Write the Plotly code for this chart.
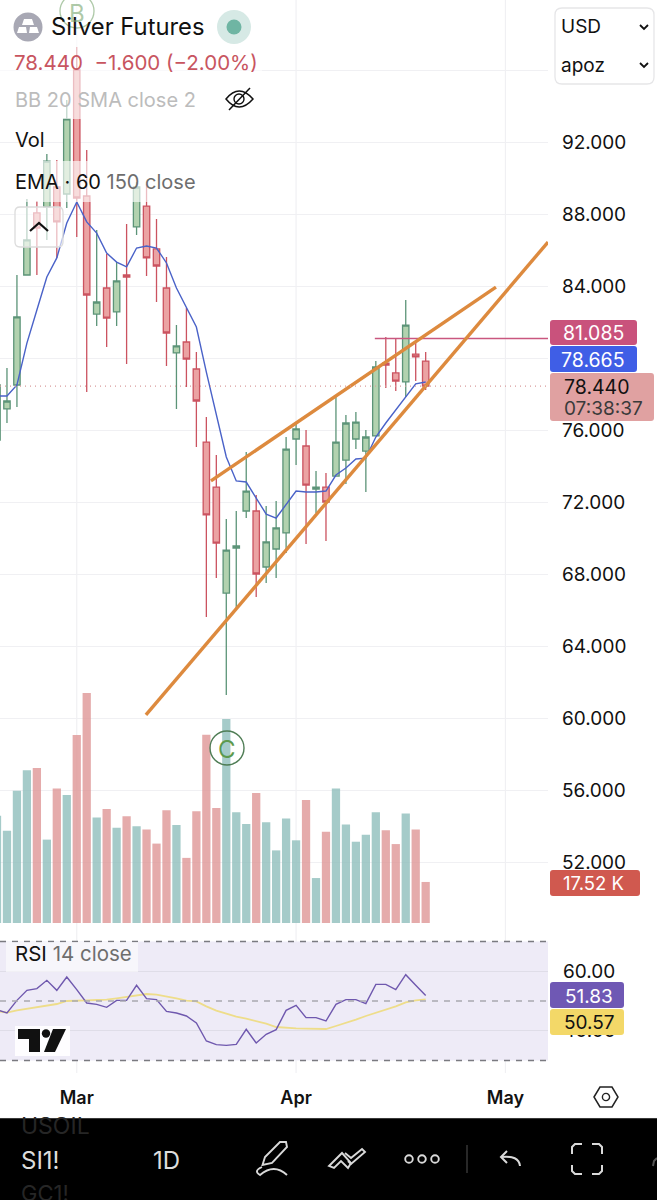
import plotly.graph_objects as go

W, H = 657, 1200
FONT = "Inter"

# trading days, index 0 is the partly hidden bar at the left edge
DATE_LABELS = ["Mar", "Apr", "May"]
DATE_BARS = [8, 30, 51]

# price units
OPEN = [75.44, 77.17, 78.50, 84.61, 88.06, 88.39, 89.50, 89.11, 96.00, 89.00, 82.44,
        83.89, 82.56, 84.61, 87.28, 88.44, 86.06, 83.89, 80.28, 80.89, 79.39, 75.33,
        72.83, 66.94, 69.44, 71.50, 71.50, 68.39, 69.39, 70.28, 75.50, 75.11, 72.72,
        72.83, 73.44, 74.33, 75.50, 74.83, 75.67, 79.72, 79.17, 78.67, 80.22, 79.83]
HIGH = [79.33, 79.44, 84.61, 88.83, 88.72, 91.33, 91.00, 94.33, 97.28, 91.56, 87.11,
        85.78, 85.33, 87.44, 89.78, 89.67, 87.72, 85.61, 81.83, 82.78, 80.33, 76.72,
        74.61, 71.06, 71.50, 74.78, 72.39, 71.78, 72.06, 75.61, 76.39, 76.00, 73.72,
        73.61, 77.83, 76.83, 77.00, 76.00, 79.83, 81.17, 81.06, 83.22, 80.83, 80.33]
LOW = [73.61, 76.39, 77.28, 84.61, 84.61, 86.56, 85.56, 88.33, 86.72, 78.11, 81.78,
       80.61, 81.78, 79.67, 86.83, 84.56, 83.11, 79.56, 77.17, 78.39, 75.06, 65.61,
       67.78, 61.28, 66.11, 71.11, 66.72, 67.50, 67.78, 69.17, 74.06, 69.67, 71.39,
       69.83, 73.44, 73.00, 74.94, 72.56, 75.67, 78.33, 78.17, 77.83, 78.72, 78.22]
CLOSE = [78.50, 77.61, 82.28, 86.56, 87.22, 90.94, 87.56, 93.28, 88.89, 83.50, 83.11,
         82.22, 84.28, 84.50, 89.50, 85.56, 85.11, 81.39, 80.67, 79.94, 77.61, 71.28,
         69.72, 69.33, 69.56, 72.61, 68.00, 69.78, 70.56, 74.94, 76.06, 72.94, 72.83,
         72.00, 75.33, 76.39, 76.44, 75.61, 79.50, 79.61, 78.72, 81.83, 80.06, 78.44]
EMA = [77.89, 77.89, 78.50, 80.83, 82.67, 84.50, 85.56, 87.50, 88.67, 87.56, 86.94,
       85.83, 85.33, 85.06, 86.11, 86.22, 86.11, 85.28, 83.89, 82.78, 81.72, 79.22,
       76.94, 74.50, 73.17, 73.11, 72.22, 71.33, 71.11, 71.89, 72.61, 72.56, 72.56,
       72.61, 73.50, 73.89, 74.39, 74.44, 75.61, 76.39, 77.11, 77.83, 78.56, 78.665]

# thousands of contracts
VOLUME = [45.8, 39.4, 56.5, 65.2, 66.2, 35.6, 57.4, 54.7, 80.3, 98.2, 45.0,
          48.7, 40.7, 45.6, 41.3, 39.9, 33.9, 48.1, 41.8, 27.8, 47.7, 80.4,
          49.1, 87.1, 47.3, 42.3, 55.5, 43.0, 31.0, 44.6, 35.3, 52.5, 19.2,
          39.0, 57.4, 42.1, 34.7, 37.7, 47.3, 39.6, 33.7, 46.8, 39.9, 17.52]
VOLUME_UP = [1, 1, 1, 1, 0, 1, 0, 1, 0, 0, 1,
             0, 1, 0, 1, 0, 0, 0, 1, 0, 0, 0,
             0, 1, 1, 1, 0, 1, 1, 1, 1, 0, 1,
             0, 1, 1, 1, 1, 1, 0, 0, 1, 0, 0]

RSI = [47.09, 45.97, 50.22, 53.59, 54.15, 56.95, 53.59, 58.07, 53.81, 49.33, 48.88,
       47.87, 50.22, 50.22, 55.27, 50.78, 50.45, 46.53, 45.97, 44.96, 42.61, 36.55,
       35.32, 35.10, 35.43, 40.48, 35.88, 38.80, 40.36, 46.86, 48.54, 44.40, 44.40,
       43.28, 48.88, 50.45, 50.45, 49.10, 55.60, 55.60, 53.81, 58.85, 55.27, 51.83]
RSI_MA = [46.64, 46.08, 46.86, 47.42, 47.87, 48.43, 48.99, 50.00, 50.22, 50.22, 50.34,
          50.45, 50.90, 51.46, 52.02, 52.35, 52.13, 51.57, 50.90, 50.11, 49.89, 48.21,
          46.75, 45.74, 44.73, 44.06, 43.28, 42.38, 41.26, 40.92, 40.81, 40.70, 40.59,
          40.59, 41.60, 42.61, 43.73, 44.96, 45.97, 47.09, 48.21, 49.55, 50.22, 50.57]

UPPER_TREND_BARS = [21.46, 50.05]
UPPER_TREND_PRICES = [73.17, 83.94]
LOWER_TREND_BARS = [14.94, 55.27]
LOWER_TREND_PRICES = [60.17, 86.44]
LEVEL_BARS = [37.9, 55.27]
LEVEL_PRICES = [81.085, 81.085]
LAST_PRICE = 78.44

PRICE_TICKS = [52, 56, 60, 64, 68, 72, 76, 80, 84, 88, 92, 96]
RSI_TICKS = [40, 60]
RSI_BANDS = [30, 50, 70]

bars = list(range(len(CLOSE)))
ORANGE = "#dd8a3e"
GRID = "#f0f0f3"
PANE_RIGHT = 548 / W


def fx(x):
    return x / W


def fy(y):
    return 1 - y / H


def path(points, close=False):
    out = "M" + " L".join(f"{fx(x):.5f} {fy(y):.5f}" for x, y in points)
    return out + (" Z" if close else "")


def rounded(x0, y0, x1, y1, r):
    # rounded box as a paper-space path
    return (f"M{fx(x0 + r):.5f} {fy(y0):.5f} L{fx(x1 - r):.5f} {fy(y0):.5f} "
            f"Q{fx(x1):.5f} {fy(y0):.5f} {fx(x1):.5f} {fy(y0 + r):.5f} "
            f"L{fx(x1):.5f} {fy(y1 - r):.5f} Q{fx(x1):.5f} {fy(y1):.5f} {fx(x1 - r):.5f} {fy(y1):.5f} "
            f"L{fx(x0 + r):.5f} {fy(y1):.5f} Q{fx(x0):.5f} {fy(y1):.5f} {fx(x0):.5f} {fy(y1 - r):.5f} "
            f"L{fx(x0):.5f} {fy(y0 + r):.5f} Q{fx(x0):.5f} {fy(y0):.5f} {fx(x0 + r):.5f} {fy(y0):.5f} Z")


fig = go.Figure()

fig.add_trace(go.Bar(
    x=bars, y=VOLUME, yaxis="y", xaxis="x", width=0.83,
    marker=dict(color=["rgba(142,190,188,0.8)" if up else "rgba(222,150,150,0.8)" for up in VOLUME_UP],
                line_width=0),
))
fig.add_trace(go.Candlestick(
    x=bars, open=OPEN, high=HIGH, low=LOW, close=CLOSE, yaxis="y2", xaxis="x",
    whiskerwidth=0,
    increasing=dict(line=dict(color="#5c9478", width=1.3), fillcolor="#b2d2af"),
    decreasing=dict(line=dict(color="#cb5360", width=1.3), fillcolor="#eba3a3"),
))
fig.add_trace(go.Scatter(x=bars, y=EMA, mode="lines", yaxis="y2", xaxis="x",
                         line=dict(color="#4a62c8", width=1.4)))
fig.add_trace(go.Scatter(x=LEVEL_BARS, y=LEVEL_PRICES, mode="lines", yaxis="y2", xaxis="x",
                         line=dict(color="#c9577f", width=1.5)))
for tx, ty in [(UPPER_TREND_BARS, UPPER_TREND_PRICES), (LOWER_TREND_BARS, LOWER_TREND_PRICES)]:
    fig.add_trace(go.Scatter(x=tx, y=ty, mode="lines", yaxis="y2", xaxis="x",
                             line=dict(color=ORANGE, width=3.4)))
fig.add_trace(go.Scatter(x=bars, y=RSI_MA, mode="lines", yaxis="y3", xaxis="x",
                         line=dict(color="#eedd8a", width=1.8)))
fig.add_trace(go.Scatter(x=bars, y=RSI, mode="lines", yaxis="y3", xaxis="x",
                         line=dict(color="#6f58ae", width=1.4)))

shapes = []


def add_fill(p, color, line=None, width=0, layer="above"):
    shapes.append(dict(type="path", path=p, xref="paper", yref="paper", fillcolor=color,
                       line=dict(color=line or "rgba(0,0,0,0)", width=width), layer=layer))


def add_stroke(points, color, width=1.6, close=False):
    shapes.append(dict(type="path", path=path(points, close), xref="paper", yref="paper",
                       line=dict(color=color, width=width), layer="above"))


def add_circle(cx, cy, r, fill="rgba(0,0,0,0)", line="rgba(0,0,0,0)", width=0):
    shapes.append(dict(type="circle", xref="paper", yref="paper", x0=fx(cx - r), x1=fx(cx + r),
                       y0=fy(cy + r), y1=fy(cy - r), fillcolor=fill,
                       line=dict(color=line, width=width), layer="above"))


# month grid runs through all panes
for b in DATE_BARS:
    shapes.append(dict(type="line", xref="x", yref="paper", x0=b, x1=b, y0=fy(1073), y1=1,
                       line=dict(color=GRID, width=1.2), layer="below"))

# rsi pane band and dashed limits
shapes.append(dict(type="rect", xref="paper", yref="y3", x0=0, x1=PANE_RIGHT, y0=RSI_BANDS[0], y1=RSI_BANDS[2],
                   fillcolor="#eeebf7", line_width=0, layer="below"))
for level, color in zip(RSI_BANDS, ["#7a7a80", "#a9a9b0", "#7a7a80"]):
    shapes.append(dict(type="line", xref="paper", yref="y3", x0=0, x1=PANE_RIGHT, y0=level, y1=level,
                       line=dict(color=color, width=1.3, dash="6px,6px"), layer="above"))

# last price dotted line
shapes.append(dict(type="line", xref="paper", yref="y2", x0=0, x1=PANE_RIGHT, y0=LAST_PRICE, y1=LAST_PRICE,
                   line=dict(color="#d99a9a", width=1.2, dash="1px,4px"), layer="above"))

# legend backdrops wash out the candles below them
add_fill(path([(0, 0), (262, 0), (262, 119), (0, 119)], True), "rgba(255,255,255,0.62)")
add_fill(path([(0, 161), (205, 161), (205, 202), (0, 202)], True), "rgba(255,255,255,0.62)")

# B and C wave marks
add_circle(77, 11, 17, line="rgba(120,165,110,0.6)", width=1.3)
add_circle(227, 748, 17, line="#4f7d55", width=1.4)

# collapse pill
add_fill(rounded(15, 207, 63, 247, 5), "rgba(255,255,255,0.62)", "#dcdcdc", 1.3)
add_stroke([(30, 231), (39, 223), (48, 231)], "#111111", 2.2)

# symbol icon and market status dot
add_circle(28, 27, 14.5, fill="#a8a8b4")
add_fill(path([(24, 19), (32, 19), (34, 25), (22, 25)], True), "#ffffff")
add_fill(path([(19, 27), (26, 27), (27, 33), (17, 33)], True), "#ffffff")
add_fill(path([(30, 27), (37, 27), (39, 33), (29, 33)], True), "#ffffff")
add_circle(234, 27, 17, fill="#d6e9e5")
add_circle(234, 27, 7.5, fill="#6fb5a3")

# hidden-eye icon
shapes.append(dict(type="path", xref="paper", yref="paper", layer="above", line=dict(color="#111111", width=1.5),
                   path=f"M{fx(226):.5f} {fy(99):.5f} Q{fx(239):.5f} {fy(83):.5f} {fx(253):.5f} {fy(99):.5f} "
                        f"Q{fx(239):.5f} {fy(115):.5f} {fx(226):.5f} {fy(99):.5f} Z"))
add_circle(239, 99, 5, line="#111111", width=1.4)
add_stroke([(229, 110), (250, 88)], "#111111", 1.5)

# currency selector covers the 96 label
add_fill(rounded(555, 8, 654, 84, 7), "#ffffff", "#e6e6e8", 1.3)
add_stroke([(640, 25), (644, 29), (648, 25)], "#111111", 1.8)
add_stroke([(640, 63), (644, 67), (648, 63)], "#111111", 1.8)

# price and rsi tags
add_fill(rounded(550, 320, 637, 345, 3), "#c9527c")
add_fill(rounded(550, 346, 637, 372, 3), "#3f5ee6")
add_fill(rounded(550, 373, 654, 421, 3), "#e0a1a1")
add_fill(rounded(550, 870, 640, 896, 3), "#d0594f")
add_fill(rounded(550, 982, 624, 1008, 3), "#6f58b4")
add_fill(rounded(550, 1009, 624, 1035, 3), "#f3d868")

# rsi legend backdrop
add_fill(path([(6, 942), (138, 942), (138, 972), (6, 972)], True), "rgba(255,255,255,0.55)")

# tradingview mark
add_fill(path([(15, 1026), (70, 1026), (70, 1056), (15, 1056)], True), "rgba(255,255,255,0.9)")
add_fill(path([(18, 1029), (40, 1029), (40, 1052), (29, 1052), (29, 1039), (18, 1039)], True), "#111111")
add_circle(46, 1033.5, 4.2, fill="#111111")
add_fill(path([(53, 1029), (66, 1029), (55, 1052), (44, 1052)], True), "#111111")

# settings hexagon
add_stroke([(594, 1097), (600, 1087), (612, 1087), (618, 1097), (612, 1107), (600, 1107)], "#222222", 1.5, True)
add_circle(606, 1097, 3.6, line="#222222", width=1.4)

# bottom toolbar
add_fill(path([(0, 1118), (W, 1118), (W, H), (0, H)], True), "#000000")
add_stroke([(0, 1118.5), (W, 1118.5)], "#3a3a3a", 1)
ICON = "#d9d9d9"
add_stroke([(262.5, 1165), (265, 1157), (280, 1142), (286, 1142), (287, 1147), (272, 1163)], ICON, 1.9, True)
shapes.append(dict(type="path", xref="paper", yref="paper", layer="above", line=dict(color=ICON, width=1.9),
                   path=f"M{fx(262):.5f} {fy(1167):.5f} Q{fx(253):.5f} {fy(1171):.5f} {fx(260):.5f} {fy(1175):.5f} "
                        f"Q{fx(274):.5f} {fy(1163):.5f} {fx(287):.5f} {fy(1175):.5f}"))
add_stroke([(329, 1166), (342, 1153), (351, 1163), (348, 1168), (341, 1161), (334, 1168)], ICON, 1.9, True)
add_stroke([(345, 1153), (351, 1158), (362, 1149), (365, 1152), (351, 1164), (348, 1161)], ICON, 1.9, False)
for cx in (409, 422, 435):
    add_circle(cx, 1159, 3.8, line=ICON, width=1.9)
add_stroke([(467, 1145), (467, 1173)], "#444444", 1.2)
add_stroke([(507, 1151), (501, 1157), (507, 1163)], ICON, 2)
shapes.append(dict(type="path", xref="paper", yref="paper", layer="above", line=dict(color=ICON, width=2),
                   path=f"M{fx(501):.5f} {fy(1157):.5f} Q{fx(519):.5f} {fy(1155):.5f} {fx(520):.5f} {fy(1166):.5f}"))
add_stroke([(572, 1154), (572, 1147), (575, 1144), (582, 1144)], ICON, 2)
add_stroke([(592, 1144), (599, 1144), (602, 1147), (602, 1154)], ICON, 2)
add_stroke([(572, 1165), (572, 1171), (575, 1174), (582, 1174)], ICON, 2)
add_stroke([(592, 1174), (599, 1174), (602, 1171), (602, 1165)], ICON, 2)
add_stroke([(653, 1166), (654, 1161), (657, 1158)], "#555555", 2)


def note(x, y, text, size=20, color="#111111", anchor="left", weight=None):
    ann = dict(x=fx(x), y=fy(y), xref="paper", yref="paper", text=text, showarrow=False,
               xanchor=anchor, yanchor="middle", align=anchor,
               font=dict(family=FONT, size=size, color=color))
    if weight:
        ann["font"]["weight"] = weight
    return ann


notes = [
    note(49, 27, "Silver Futures", 23.8, "#111111"),
    note(12, 63, "78.440&#160;&#160;\u22121.600 (\u22122.00%)", 20.5, "#c8555f"),
    note(13, 100, "BB 20 SMA close 2", 20, "#bcbcbc"),
    note(13, 140, "Vol", 20, "#111111"),
    note(13, 182, "EMA \u00b7 60 <span style='color:#6e6e6e'>150 close</span>", 20, "#111111"),
    note(77, 13, "B", 24, "rgba(120,165,110,0.6)", "center"),
    note(227, 749, "C", 24, "#5d9a4e", "center"),
    note(559, 27, "USD", 19, "#111111"),
    note(559, 65, "apoz", 19, "#111111"),
    note(593, 333, "81.085", 19.5, "#ffffff", "center"),
    note(593, 360, "78.665", 19.5, "#ffffff", "center"),
    note(562, 387, "78.440", 19.5, "#111111"),
    note(562, 408, "07:38:37", 19, "#3a3a3a"),
    note(593, 883, "17.52 K", 18.5, "#ffffff", "center"),
    note(589, 996, "51.83", 19, "#ffffff", "center"),
    note(589, 1022, "50.57", 19, "#111111", "center"),
    note(13, 953, "RSI <span style='color:#6e6e6e'>14 close</span>", 20.5, "#111111"),
    note(19, 1160, "SI1!", 24, "#dddddd"),
    note(151, 1160, "1D", 24, "#dddddd"),
    note(19, 1126, "USOIL", 23, "#262626"),
    note(19, 1193, "GC1!", 22, "#262626"),
]

fig.update_layout(
    width=W, height=H,
    margin=dict(l=0, r=0, t=0, b=0),
    paper_bgcolor="#ffffff", plot_bgcolor="rgba(0,0,0,0)",
    showlegend=False,
    boxgap=0.18, boxgroupgap=0.22,
    shapes=shapes,
    annotations=notes,
    font=dict(family=FONT, color="#111111"),
    xaxis=dict(domain=[0, PANE_RIGHT], range=[0.301, 55.27], anchor="y3", showgrid=False, zeroline=False,
               showline=False, tickmode="array", tickvals=DATE_BARS, ticktext=DATE_LABELS, ticks="",
               ticklabelstandoff=7, tickfont=dict(size=18, family=FONT, weight=600), rangeslider=dict(visible=False)),
    yaxis=dict(domain=[fy(924), 1], range=[-0.43, 394.1], visible=False, fixedrange=True),
    yaxis2=dict(domain=[fy(924), 1], overlaying="y", side="right", anchor="x", range=[48.556, 99.889],
                tickmode="array", tickvals=PRICE_TICKS, tickformat=".3f", showgrid=True, gridcolor=GRID, gridwidth=1.2,
                zeroline=False, showline=False, ticks="", ticklabelstandoff=13, tickfont=dict(size=19, family=FONT)),
    yaxis3=dict(domain=[fy(1078), fy(925)], side="right", anchor="x", range=[24.12, 75.55],
                tickmode="array", tickvals=RSI_TICKS, tickformat=".2f", showgrid=True, gridcolor="#dfdde8", gridwidth=1,
                zeroline=False, showline=False, ticks="", ticklabelstandoff=14, tickfont=dict(size=19, family=FONT)),
)

# the page's default body margin would shift everything by 8px
fig.write_html("out.html", config={"displayModeBar": False}, post_script="document.body.style.margin='0';")
